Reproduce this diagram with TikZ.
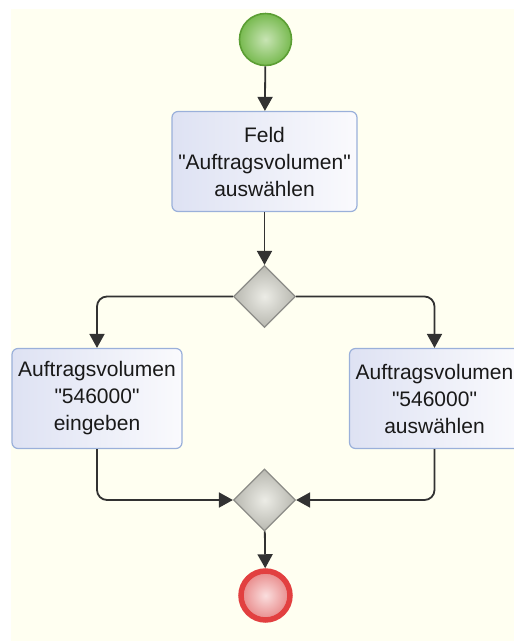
\documentclass[tikz,border=0pt]{standalone}
\usepackage{fontspec}
\setmainfont{Liberation Sans}[Ligatures=TeXOff]
\usetikzlibrary{shapes.geometric,arrows.meta}

\definecolor{canvas}{RGB}{255,255,241}
\definecolor{taskborder}{RGB}{154,176,218}
\definecolor{taskleft}{RGB}{222,226,243}
\definecolor{taskright}{RGB}{250,250,253}
\definecolor{gateborder}{RGB}{140,140,136}
\definecolor{gateouter}{RGB}{184,184,176}
\definecolor{gateinner}{RGB}{236,236,230}
\definecolor{startborder}{RGB}{92,158,52}
\definecolor{startouter}{RGB}{120,186,80}
\definecolor{startinner}{RGB}{200,228,180}
\definecolor{endborder}{RGB}{226,64,64}
\definecolor{endouter}{RGB}{232,136,136}
\definecolor{endinner}{RGB}{250,222,222}
\definecolor{flowline}{RGB}{50,50,50}

\tikzset{
  task/.style={draw=taskborder, line width=1.2pt, rounded corners=6pt,
    left color=taskleft, right color=taskright,
    minimum height=100pt, inner sep=0pt, align=center,
    font=\fontsize{21}{27}\selectfont, text=black!90},
  gateway/.style={diamond, draw=gateborder, line width=1.2pt,
    inner color=gateinner, outer color=gateouter,
    minimum width=62pt, minimum height=62pt, inner sep=0pt},
  startev/.style={circle, draw=startborder, line width=1.6pt,
    inner color=startinner, outer color=startouter,
    minimum size=52pt, inner sep=0pt},
  endev/.style={circle, draw=endborder, line width=5.5pt,
    inner color=endinner, outer color=endouter,
    minimum size=49pt, inner sep=0pt},
  flow/.style={draw=flowline, line width=1.8pt,
    -{Triangle[width=15pt,length=14pt]}, rounded corners=10pt},
}

\begin{document}
\begin{tikzpicture}[x=1pt,y=-1pt]
  \useasboundingbox (0,0) rectangle (514,641);
  \clip (0,0) rectangle (514,641);
  \fill[canvas] (11,9) rectangle (514,641);

  % events, tasks and gateways
  \node[startev] (start) at (265.5,39.5) {};
  \node[task, minimum width=185pt] (feld) at (264.5,161.5)
    {Feld\\"Auftragsvolumen"\\auswählen};
  \node[gateway] (split) at (264.5,296.5) {};
  \node[task, minimum width=170pt] (eingeben) at (97,398.5)
    {Auftragsvolumen\\"546000"\\eingeben};
  \node[task, minimum width=170pt] (waehlen) at (434.5,398.5)
    {Auftragsvolumen\\"546000"\\auswählen};
  \node[gateway] (merge) at (264.5,500) {};
  \node[endev] (stop) at (265.5,595.5) {};

  % sequence flows
  \draw[flow] (start) -- (feld);
  \draw[flow] (feld) -- (split);
  \draw[flow] (split.west) -| (eingeben.north);
  \draw[flow] (split.east) -| (waehlen.north);
  \draw[flow] (eingeben.south) |- (merge.west);
  \draw[flow] (waehlen.south) |- (merge.east);
  \draw[flow] (merge) -- (stop);
\end{tikzpicture}
\end{document}
